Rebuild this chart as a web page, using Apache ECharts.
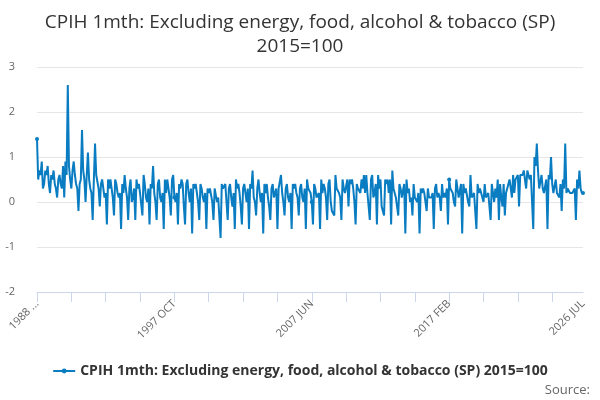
<!DOCTYPE html>
<html><head><meta charset="utf-8">
<script src="https://cdn.jsdelivr.net/npm/echarts@6/dist/echarts.min.js"></script>
<style>html,body{margin:0;padding:0;background:#fff}#c{width:600px;height:400px}</style>
</head><body><div id="c"></div>
<script>
const seriesName = "CPIH 1mth: Excluding energy, food, alcohol & tobacco (SP) 2015=100";
const startYear = 1988, startMonth = 1; // Feb (0-based)
const monthNames = ["JAN","FEB","MAR","APR","MAY","JUN","JUL","AUG","SEP","OCT","NOV","DEC"];
const y1988 = [1.4,0.5,0.7,0.6,0.9,0.3,0.4,0.7,0.6,0.8,0.4];
const y1989 = [0.2,0.6,0.5,0.7,0.4,0.3,0.1,0.5,0.6,0.4,0.3,0.8];
const y1990 = [0.1,0.9,0.6,2.6,0.8,0.5,0.3,0.7,0.9,0.6,0.4,0.3];
const y1991 = [-0.2,0.4,0.5,1.6,0.7,0.5,0.0,0.6,1.1,0.5,0.3,0.2];
const y1992 = [-0.4,0.5,1.3,0.6,0.6,0.3,-0.1,0.4,0.5,0.3,0.1,0.2];
const y1993 = [-0.5,0.5,0.3,0.5,0.3,0.1,-0.3,0.5,0.4,0.2,0.1,0.2];
const y1994 = [-0.6,0.4,0.2,0.6,0.3,0.1,-0.4,0.3,0.5,0.0,0.1,0.3];
const y1995 = [-0.4,0.5,0.3,0.4,0.2,0.2,-0.3,0.6,0.4,0.1,0.0,0.3];
const y1996 = [-0.5,0.4,0.3,0.8,0.2,0.0,-0.4,0.4,0.5,0.1,0.0,0.2];
const y1997 = [-0.6,0.5,0.2,0.5,0.3,0.1,-0.3,0.5,0.6,0.1,0.0,0.2];
const y1998 = [-0.5,0.4,0.3,0.5,0.4,-0.1,-0.5,0.4,0.5,0.2,0.0,0.3];
const y1999 = [-0.7,0.4,0.3,0.4,0.2,0.0,-0.4,0.4,0.3,0.1,0.0,0.2];
const y2000 = [-0.6,0.3,0.2,0.3,0.3,0.0,-0.4,0.3,0.3,0.0,0.1,0.1];
const y2001 = [-0.8,0.4,0.3,0.3,0.4,0.0,-0.4,0.3,0.4,0.1,-0.1,0.2];
const y2002 = [-0.6,0.5,0.3,0.4,0.2,-0.1,-0.5,0.3,0.4,0.2,0.0,0.3];
const y2003 = [-0.6,0.4,0.3,0.7,0.1,0.0,-0.3,0.3,0.5,0.2,0.0,0.2];
const y2004 = [-0.7,0.4,0.2,0.4,0.1,-0.1,-0.4,0.3,0.4,0.1,0.1,0.3];
const y2005 = [-0.6,0.3,0.3,0.6,0.2,0.0,-0.3,0.3,0.4,0.1,0.0,0.2];
const y2006 = [-0.6,0.4,0.3,0.4,0.2,0.1,-0.3,0.3,0.4,0.1,0.0,0.3];
const y2007 = [-0.6,0.5,0.3,0.3,0.2,0.0,-0.5,0.4,0.3,0.1,0.1,0.2];
const y2008 = [-0.6,0.5,0.2,0.4,0.3,0.1,-0.4,0.4,0.5,0.0,-0.2,-0.2];
const y2009 = [-0.3,0.6,0.3,0.3,0.2,0.1,-0.4,0.5,0.3,0.2,0.2,0.5];
const y2010 = [-0.1,0.5,0.4,0.5,0.3,0.0,-0.5,0.4,0.3,0.3,0.2,0.5];
const y2011 = [0.3,0.6,0.2,0.6,0.2,-0.1,-0.4,0.5,0.6,0.1,0.2,0.4];
const y2012 = [-0.5,0.6,0.3,0.5,-0.1,-0.2,-0.3,0.5,0.4,0.5,0.2,0.5];
const y2013 = [-0.5,0.7,0.3,0.2,0.1,-0.1,-0.3,0.4,0.3,0.1,0.1,0.4];
const y2014 = [-0.7,0.5,0.2,0.3,0.0,0.1,-0.3,0.4,0.1,0.1,0.0,0.2];
const y2015 = [-0.7,0.3,0.2,0.3,0.2,0.0,-0.2,0.3,0.1,0.1,0.1,0.2];
const y2016 = [-0.6,0.3,0.4,0.1,0.2,0.1,-0.2,0.4,0.1,0.2,0.1,0.3];
const y2017 = [-0.5,0.5,0.3,0.3,0.2,0.0,-0.1,0.5,0.3,0.1,0.1,0.4];
const y2018 = [-0.7,0.4,0.2,0.3,0.3,0.0,-0.1,0.6,0.1,0.1,0.2,0.2];
const y2019 = [-0.6,0.4,0.2,0.3,0.2,0.1,0.0,0.4,0.1,0.1,0.2,0.2];
const y2020 = [-0.4,0.4,0.2,0.0,0.3,0.1,0.5,-0.4,0.4,0.1,-0.1,0.4];
const y2021 = [-0.3,0.2,0.3,0.3,0.5,0.3,0.1,0.6,0.2,0.5,0.5,0.6];
const y2022 = [-0.1,0.6,0.6,0.6,0.7,0.5,0.3,0.7,0.6,0.5,0.6,0.6];
const y2023 = [-0.6,1.0,0.8,1.3,0.7,0.3,0.3,0.6,0.3,0.2,0.2,0.5];
const y2024 = [-0.6,0.6,0.5,1.0,0.4,0.2,0.2,0.5,0.2,0.2,0.1,0.4];
const y2025 = [-0.2,0.5,0.3,1.3,0.2,0.3,0.3,0.2,0.2,0.2,0.2,0.3];
const y2026 = [-0.4,0.5,0.3,0.7,0.3,0.2,0.2];
const values = [].concat(y1988,y1989,y1990,y1991,y1992,y1993,y1994,y1995,y1996,y1997,y1998,y1999,
  y2000,y2001,y2002,y2003,y2004,y2005,y2006,y2007,y2008,y2009,y2010,y2011,y2012,y2013,y2014,
  y2015,y2016,y2017,y2018,y2019,y2020,y2021,y2022,y2023,y2024,y2025,y2026);
const categories = values.map((v,i)=>{const m=startMonth+i;return (startYear+Math.floor(m/12))+" "+monthNames[m%12];});
const last = categories.length-1;
const chart = echarts.init(document.getElementById('c'));
chart.setOption({
  animation:false,
  title:{text:"CPIH 1mth: Excluding energy, food, alcohol & tobacco (SP)\n2015=100",left:'center',top:6,
    textStyle:{fontFamily:'Open Sans',fontSize:19,fontWeight:'normal',color:'#333',lineHeight:24}},
  grid:{left:37,right:17,top:67,bottom:108},
  xAxis:{type:'category',data:categories,boundaryGap:false,
    axisLine:{onZero:false,lineStyle:{color:'#ccd6eb'}},
    axisTick:{show:true,interval:28,length:10,lineStyle:{color:'#ccd6eb',width:1}},
    axisLabel:{interval:(i)=>i%116===0||i===last,rotate:45,color:'#666',fontFamily:'Open Sans',fontSize:11,margin:10,
      formatter:(v,i)=>i===0?"1988 ...":v}},
  yAxis:{type:'value',min:-2,max:3,interval:1,
    axisLabel:{color:'#666',fontFamily:'Open Sans',fontSize:11,margin:22},
    splitLine:{lineStyle:{color:'#e6e6e6'}}},
  legend:{bottom:17,left:'center',itemWidth:22,itemHeight:6,
    textStyle:{fontFamily:'Open Sans',fontSize:14,fontWeight:'bold',color:'#333'}},
  graphic:[{type:'text',right:10,bottom:3,style:{text:'Source:',font:'13px "Open Sans"',fill:'#666'}}],
  series:[{name:seriesName,type:'line',data:values,symbol:'circle',symbolSize:4,showSymbol:true,
    lineStyle:{width:2,color:'#0a7cc1'},itemStyle:{color:'#0a7cc1'}}]
});
</script></body></html>
